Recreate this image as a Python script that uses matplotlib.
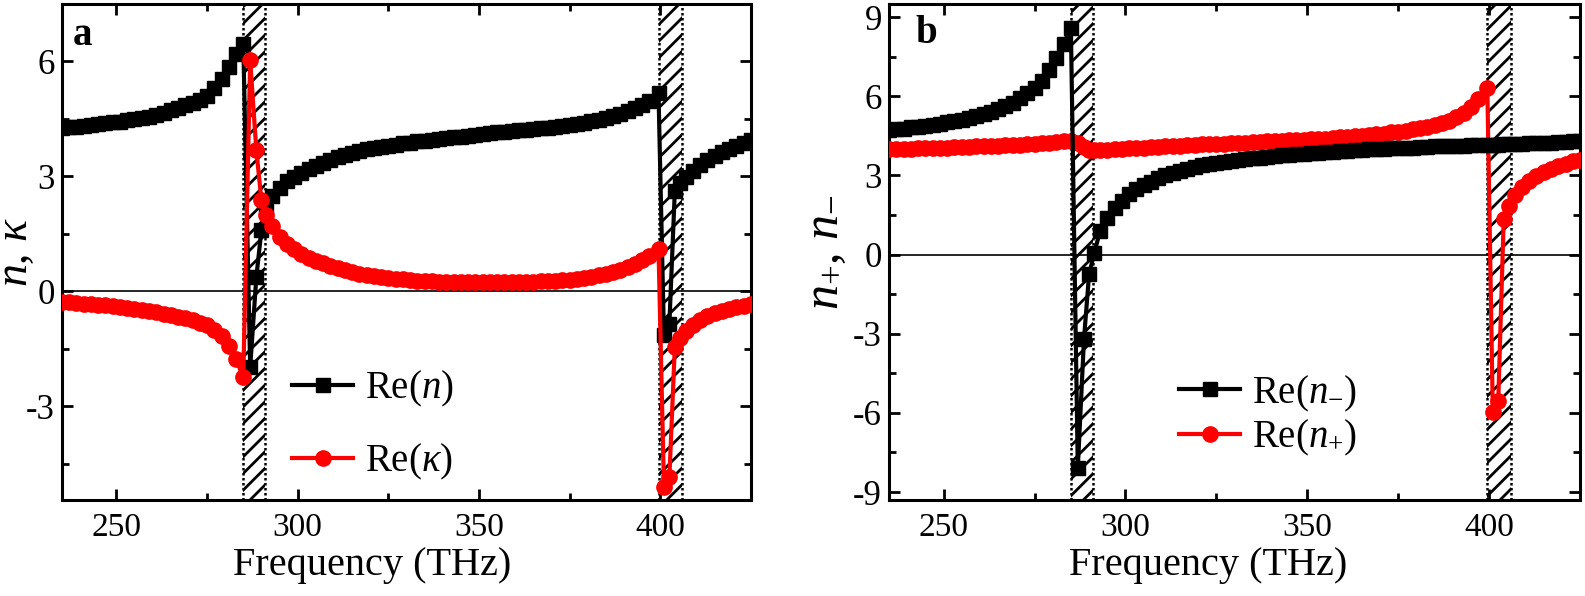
import matplotlib
matplotlib.use("Agg")
import matplotlib.pyplot as plt
from matplotlib.ticker import MultipleLocator

plt.rcParams['font.family'] = ['Liberation Serif', 'DejaVu Serif']
plt.rcParams['mathtext.fontset'] = 'custom'
plt.rcParams['mathtext.rm'] = 'Liberation Serif'
plt.rcParams['mathtext.it'] = 'Liberation Serif:italic'
plt.rcParams['mathtext.bf'] = 'Liberation Serif:bold'
plt.rcParams['axes.unicode_minus'] = False
plt.rcParams['hatch.linewidth'] = 2.0
plt.rcParams['hatch.color'] = 'black'

# frequency grid (THz), shared by both panels
freq = [235, 237, 239, 241, 243, 245, 247, 249, 251, 253, 255, 257, 259, 261, 263,
        265, 267, 269, 271, 273, 275, 277, 279, 281, 283, 285,
        286.9, 288.6, 290.0, 291.4,
        293, 295, 297, 299, 301, 303, 305, 307, 309, 311, 313, 315, 317, 319, 321,
        323, 325, 327, 329, 331, 333, 335, 337, 339, 341, 343, 345, 347, 349, 351,
        353, 355, 357, 359, 361, 363, 365, 367, 369, 371, 373, 375, 377, 379, 381,
        383, 385, 387, 389, 391, 393, 395, 397, 399.5,
        401.0, 402.5, 404.0, 405.5, 407, 409, 411, 413, 415, 417, 419, 421, 423, 425]

# panel a
re_n = [4.26, 4.28, 4.30, 4.32, 4.34, 4.36, 4.38, 4.41, 4.43, 4.46, 4.49, 4.52, 4.56, 4.61, 4.66,
        4.73, 4.79, 4.85, 4.92, 5.00, 5.10, 5.30, 5.55, 5.85, 6.20, 6.45,
        -1.98, 0.37, 1.60, 2.20,
        2.48, 2.70, 2.87, 2.99, 3.09, 3.18, 3.27, 3.35, 3.43, 3.50, 3.56, 3.61, 3.66, 3.71, 3.74,
        3.77, 3.80, 3.83, 3.86, 3.88, 3.91, 3.93, 3.95, 3.97, 3.99, 4.02, 4.04, 4.06, 4.09, 4.11,
        4.13, 4.15, 4.17, 4.18, 4.20, 4.22, 4.23, 4.25, 4.27, 4.29, 4.32, 4.34, 4.37, 4.40, 4.44,
        4.48, 4.52, 4.57, 4.63, 4.70, 4.78, 4.87, 4.98, 5.18,
        -1.15, -0.85, 2.62, 2.82, 2.98, 3.15, 3.30, 3.42, 3.53, 3.63, 3.72, 3.80, 3.88, 3.95]

re_kappa = [-0.28, -0.29, -0.30, -0.32, -0.33, -0.35, -0.37, -0.39, -0.41, -0.44, -0.46, -0.49, -0.52, -0.55, -0.59,
            -0.63, -0.67, -0.71, -0.76, -0.82, -0.88, -1.00, -1.18, -1.43, -1.78, -2.24,
            6.03, 3.68, 2.37, 1.98,
            1.70, 1.42, 1.23, 1.09, 0.98, 0.88, 0.80, 0.73, 0.66, 0.60, 0.55, 0.50, 0.46, 0.42, 0.39,
            0.37, 0.34, 0.32, 0.31, 0.29, 0.28, 0.27, 0.26, 0.25, 0.25, 0.24, 0.24, 0.23, 0.23, 0.23,
            0.23, 0.23, 0.23, 0.24, 0.24, 0.24, 0.25, 0.26, 0.27, 0.28, 0.29, 0.30, 0.32, 0.35, 0.38,
            0.42, 0.45, 0.50, 0.56, 0.63, 0.71, 0.81, 0.93, 1.11,
            -5.10, -4.85, -1.45, -1.22, -1.05, -0.88, -0.75, -0.65, -0.57, -0.51, -0.46, -0.42, -0.38, -0.34]

# panel b
re_n_minus = [4.72, 4.75, 4.78, 4.82, 4.85, 4.89, 4.93, 4.97, 5.02, 5.06, 5.12, 5.18, 5.25, 5.33, 5.42,
              5.51, 5.62, 5.75, 5.93, 6.12, 6.30, 6.60, 6.98, 7.45, 8.00, 8.60,
              -8.10, -3.20, -0.75, 0.05,
              0.88, 1.38, 1.75, 2.05, 2.29, 2.48, 2.63, 2.77, 2.90, 3.00, 3.09, 3.18, 3.25, 3.32, 3.38,
              3.44, 3.48, 3.52, 3.56, 3.59, 3.62, 3.66, 3.68, 3.71, 3.74, 3.76, 3.79, 3.81, 3.83, 3.85,
              3.86, 3.88, 3.90, 3.92, 3.94, 3.95, 3.97, 3.99, 4.00, 4.02, 4.03, 4.04, 4.05, 4.06, 4.08,
              4.09, 4.10, 4.11, 4.11, 4.12, 4.13, 4.14, 4.15, 4.16,
              4.16, 4.17, 4.18, 4.19, 4.20, 4.21, 4.22, 4.23, 4.24, 4.25, 4.27, 4.28, 4.30, 4.32]

re_n_plus = [4.00, 4.01, 4.02, 4.02, 4.03, 4.04, 4.05, 4.06, 4.06, 4.07, 4.08, 4.09, 4.10, 4.11, 4.12,
             4.13, 4.14, 4.15, 4.17, 4.18, 4.20, 4.22, 4.24, 4.27, 4.30, 4.32,
             4.22, 4.08, 3.98, 3.95,
             3.96, 3.98, 3.99, 4.01, 4.03, 4.04, 4.06, 4.07, 4.09, 4.10, 4.12, 4.13, 4.15, 4.16, 4.18,
             4.19, 4.20, 4.21, 4.23, 4.24, 4.25, 4.26, 4.28, 4.29, 4.30, 4.32, 4.33, 4.35, 4.36, 4.37,
             4.39, 4.40, 4.42, 4.44, 4.46, 4.48, 4.50, 4.53, 4.56, 4.59, 4.63, 4.66, 4.70, 4.75, 4.80,
             4.85, 4.90, 4.98, 5.07, 5.20, 5.38, 5.60, 5.90, 6.30,
             -5.95, -5.55, 1.34, 1.85, 2.25, 2.58, 2.80, 2.98, 3.13, 3.26, 3.36, 3.45, 3.53, 3.60]

# resonance bands (THz)
bands = [(285.0, 291.1), (399.5, 405.9)]

fig = plt.figure(figsize=(15.85, 5.96), dpi=100)
ax1 = fig.add_axes([0.0391, 0.1611, 0.4347, 0.8322])
ax2 = fig.add_axes([0.5609, 0.1611, 0.4360, 0.8322])

for ax in (ax1, ax2):
    for lo, hi in bands:
        ax.axvspan(lo, hi, facecolor='white', edgecolor='black', hatch='//', linewidth=0, zorder=1)
        ax.axvline(lo, color='black', ls=(0, (1, 1)), lw=1.8, zorder=1.5)
        ax.axvline(hi, color='black', ls=(0, (1, 1)), lw=1.8, zorder=1.5)
    ax.axhline(0, color='black', lw=1.2, zorder=2)
    ax.set_xlim(235, 425)
    ax.xaxis.set_major_locator(MultipleLocator(50))
    ax.xaxis.set_minor_locator(MultipleLocator(25))
    ax.yaxis.set_minor_locator(MultipleLocator(1.5))
    ax.tick_params(which='both', direction='in', top=True, right=True, width=2)
    ax.tick_params(which='major', length=8)
    ax.tick_params(which='minor', length=5)
    ax.tick_params(axis='x', labelsize=24, pad=9)
    ax.tick_params(axis='y', labelsize=25, pad=5)
    for s in ax.spines.values():
        s.set_linewidth(2.2)
    ax.set_xlabel('Frequency (THz)', fontsize=29, labelpad=2)

ax1.plot(freq, re_n, color='black', marker='s', ms=10, lw=3, label='Re($n$)', zorder=3)
ax1.plot(freq, re_kappa, color='red', marker='o', ms=11, lw=3, label=r'Re($\kappa$)', zorder=4)
ax1.set_ylim(-5.45, 7.5)
ax1.yaxis.set_major_locator(MultipleLocator(3))
ax1.set_ylabel(r'$n$, $\kappa$', fontsize=33)
ax1.yaxis.set_label_coords(-0.036, 0.5)
ax1.xaxis.set_label_coords(0.45, -0.095)
ax1.text(0.016, 0.917, 'a', transform=ax1.transAxes, fontsize=28, fontweight='bold', va='baseline')
ax1.legend(loc='upper left', bbox_to_anchor=(0.334, 0.265), frameon=False, fontsize=28,
           handlelength=1.57, handletextpad=0.3, labelspacing=0.85, borderpad=0, borderaxespad=0)

l2, = ax2.plot(freq, re_n_plus, color='red', marker='o', ms=11, lw=3, label='Re($n_{+}$)', zorder=3)
l1, = ax2.plot(freq, re_n_minus, color='black', marker='s', ms=10, lw=3, label='Re($n_{-}$)', zorder=4)
ax2.set_ylim(-9.3, 9.5)
ax2.yaxis.set_major_locator(MultipleLocator(3))
ax2.set_ylabel(r'$n_{+}$, $n_{-}$', fontsize=36)
ax2.yaxis.set_label_coords(-0.058, 0.5)
ax2.xaxis.set_label_coords(0.462, -0.095)
ax2.text(0.038, 0.921, 'b', transform=ax2.transAxes, fontsize=28, fontweight='bold', va='baseline')
ax2.legend(handles=[l1, l2], loc='upper left', bbox_to_anchor=(0.42, 0.255), frameon=False, fontsize=28,
           handlelength=1.57, handletextpad=0.3, labelspacing=0.1, borderpad=0, borderaxespad=0)

plt.savefig('out.png', dpi=100)
